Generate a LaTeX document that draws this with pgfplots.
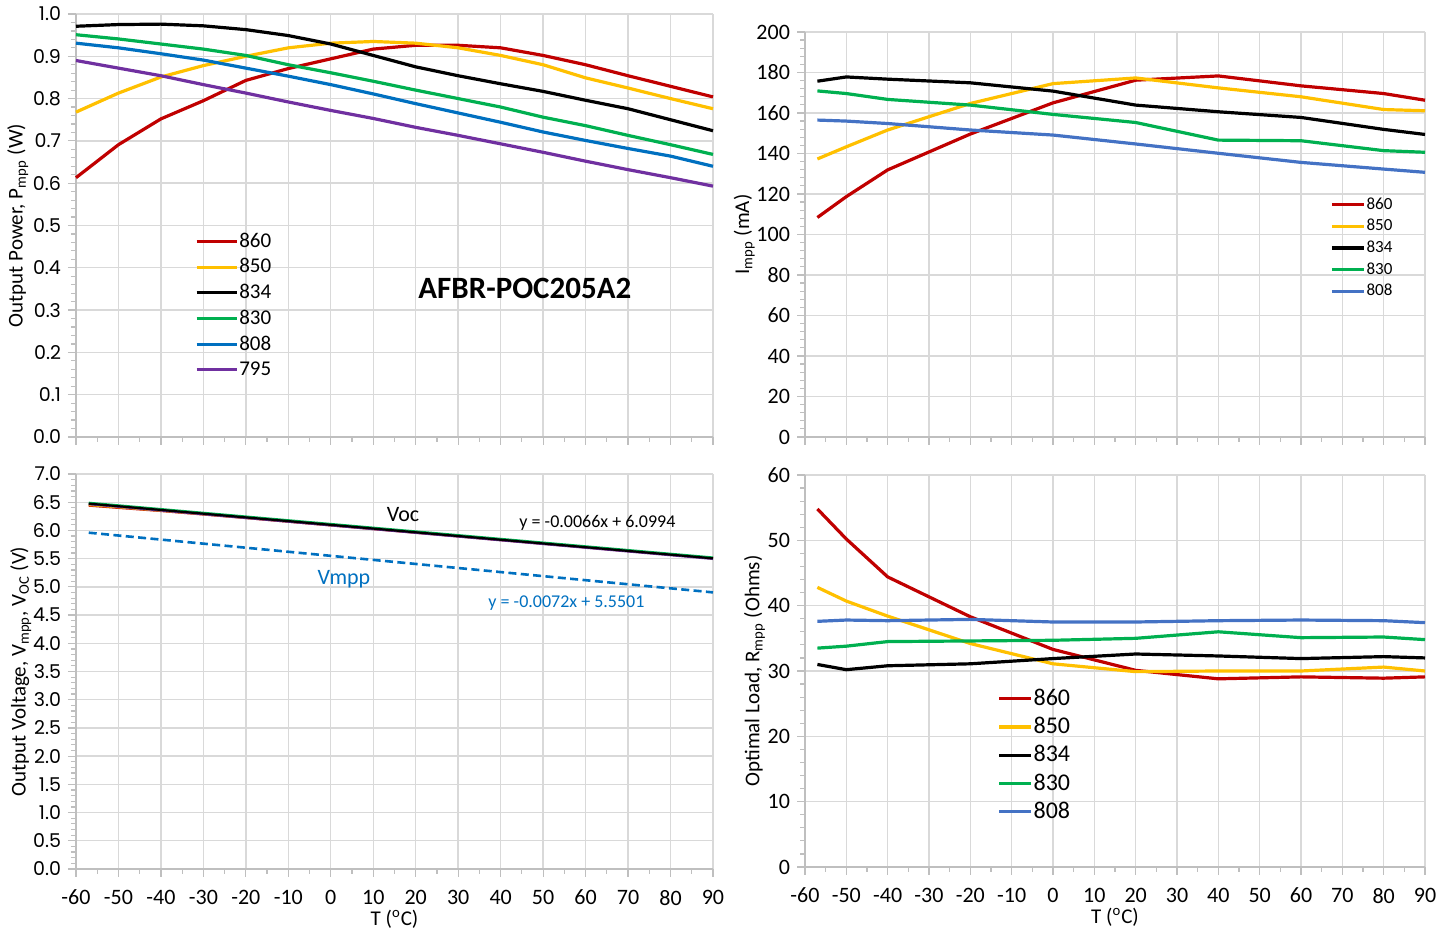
\documentclass[border=0pt]{standalone}
\usepackage{pgfplots}
\pgfplotsset{compat=1.18}
\usepackage{fontspec}
\setmainfont{Carlito}
\newfontfamily\gothic{Poppins}

\definecolor{cRed}{RGB}{192,0,0}
\definecolor{cYel}{RGB}{255,192,0}
\definecolor{cGrn}{RGB}{0,176,80}
\definecolor{cBlu}{RGB}{0,112,192}
\definecolor{cBlu2}{RGB}{68,114,196}
\definecolor{cPur}{RGB}{112,48,160}
\definecolor{gridgray}{RGB}{217,217,217}
\definecolor{axgray}{RGB}{191,191,191}

\pgfplotsset{
  panel/.style={
    scale only axis, anchor=south west,
    axis lines=left, axis line style={-, draw=axgray, line width=0.8pt},
    xmin=-60, xmax=90, xtick={-60,-50,...,90},
    minor x tick num=1, minor y tick num=4,
    grid=major, major grid style={draw=gridgray, line width=0.7pt},
    tick align=outside, tick style={draw=axgray, line width=0.6pt},
    major tick length=4pt, minor tick length=2.5pt,
    enlargelimits=false, clip=false,
    /pgf/number format/assume math mode=true,
    tick label style={font=\fontsize{11}{13}\selectfont, text=black},
    label style={font=\fontsize{10.5}{12}\selectfont},
    legend cell align=left,
    every axis plot/.append style={line width=1.6pt},
  },
  nolabx/.style={xticklabels={}},
  labx/.style={xticklabel style={yshift=-3pt},
    xlabel={T (\textsuperscript{o}C)},
    xlabel style={yshift=4.5pt}},
}

\begin{document}
\begin{tikzpicture}
\useasboundingbox (0,0) rectangle (728pt,465pt);

% top left: output power
\begin{axis}[panel, nolabx,
  at={(38pt,246.5pt)}, width=318.5pt, height=211.5pt,
  ymin=0, ymax=1, ytick={0,0.1,...,1.0},
  yticklabel style={font=\gothic\fontsize{9.5}{11}\selectfont,
    /pgf/number format/.cd, fixed, fixed zerofill, precision=1},
  ylabel={Output Power, P\textsubscript{mpp} (W)}, ylabel shift=-4.5pt,
  legend style={at={(rel axis cs:0.177,0.498)}, anchor=north west, draw=none, fill=none,
    font=\fontsize{10.5}{12}\selectfont, row sep=2.2pt, nodes={inner xsep=0.5pt, inner ysep=1pt}},
  legend image code/.code={\draw[#1] (0pt,0pt) -- (20pt,0pt);},
]
\addplot[cRed] coordinates {(-60,0.613) (-50,0.691) (-40,0.752) (-30,0.795) (-20,0.843) (-10,0.871) (0,0.894) (10,0.917) (20,0.926) (30,0.926) (40,0.920) (50,0.902) (60,0.880) (70,0.854) (80,0.829) (90,0.804)};
\addlegendentry{860}
\addplot[cYel] coordinates {(-60,0.768) (-50,0.813) (-40,0.851) (-30,0.878) (-20,0.900) (-10,0.920) (0,0.931) (10,0.935) (20,0.931) (30,0.920) (40,0.902) (50,0.880) (60,0.849) (70,0.825) (80,0.800) (90,0.776)};
\addlegendentry{850}
\addplot[black] coordinates {(-60,0.971) (-50,0.975) (-40,0.976) (-30,0.972) (-20,0.963) (-10,0.949) (0,0.929) (10,0.902) (20,0.875) (30,0.854) (40,0.835) (50,0.817) (60,0.796) (70,0.776) (80,0.750) (90,0.724)};
\addlegendentry{834}
\addplot[cGrn] coordinates {(-60,0.951) (-50,0.941) (-40,0.929) (-30,0.917) (-20,0.902) (-10,0.880) (0,0.861) (10,0.841) (20,0.820) (30,0.800) (40,0.780) (50,0.756) (60,0.736) (70,0.713) (80,0.691) (90,0.668)};
\addlegendentry{830}
\addplot[cBlu] coordinates {(-60,0.931) (-50,0.920) (-40,0.906) (-30,0.891) (-20,0.872) (-10,0.853) (0,0.833) (10,0.811) (20,0.788) (30,0.766) (40,0.744) (50,0.721) (60,0.701) (70,0.682) (80,0.664) (90,0.640)};
\addlegendentry{808}
\addplot[cPur] coordinates {(-60,0.890) (-50,0.872) (-40,0.854) (-30,0.833) (-20,0.813) (-10,0.792) (0,0.772) (10,0.753) (20,0.732) (30,0.713) (40,0.693) (50,0.673) (60,0.652) (70,0.632) (80,0.613) (90,0.593)};
\addlegendentry{795}
\node[font=\bfseries\fontsize{15.5}{17}\selectfont] at (axis cs:45.7,0.35) {AFBR-POC205A2};
\end{axis}

% top right: current
\begin{axis}[panel, nolabx,
  at={(402.5pt,246.5pt)}, width=310pt, height=202.5pt,
  ymin=0, ymax=200, ytick={0,20,...,200},
  ylabel={I\textsubscript{mpp} (mA)}, ylabel shift=-6pt,
  legend style={at={(rel axis cs:0.837,0.607)}, anchor=north west, draw=none, fill=none,
    font=\fontsize{8.5}{10}\selectfont, row sep=1.5pt, nodes={inner xsep=0.5pt, inner ysep=1pt}},
  legend image code/.code={\draw[#1] (0pt,0pt) -- (16pt,0pt);},
]
\addplot[cRed] coordinates {(-57,108.4) (-50,118.7) (-40,131.9) (-20,149.6) (0,165.0) (20,176.2) (40,178.3) (60,173.4) (80,169.6) (90,166.3)};
\addlegendentry{860}
\addplot[cYel] coordinates {(-57,137.3) (-50,143.3) (-40,151.6) (-20,164.7) (0,174.5) (20,177.3) (40,172.4) (60,168.0) (80,161.7) (90,161.1)};
\addlegendentry{850}
\addplot[black] coordinates {(-57,175.7) (-50,177.8) (-40,176.7) (-20,174.9) (0,170.8) (20,163.9) (40,160.6) (60,157.8) (80,151.9) (90,149.4)};
\addlegendentry{834}
\addplot[cGrn] coordinates {(-57,170.9) (-50,169.6) (-40,166.7) (-20,163.9) (0,159.3) (20,155.3) (40,146.6) (60,146.3) (80,141.4) (90,140.6)};
\addlegendentry{830}
\addplot[cBlu2] coordinates {(-57,156.5) (-50,156.0) (-40,154.8) (-20,151.6) (0,149.1) (20,144.7) (40,140.1) (60,135.6) (80,132.3) (90,130.7)};
\addlegendentry{808}
\end{axis}

% bottom left: voltage
\begin{axis}[panel, labx,
  at={(38pt,30.5pt)}, width=318.5pt, height=197.5pt,
  ymin=0, ymax=7, ytick={0,0.5,...,7.0},
  yticklabel style={font=\gothic\fontsize{9.5}{11}\selectfont,
    /pgf/number format/.cd, fixed, fixed zerofill, precision=1},
  ylabel={Output Voltage, V\textsubscript{mpp}, V\textsubscript{OC} (V)}, ylabel shift=-6pt,
  every axis plot/.append style={line width=1.1pt},
]
\addplot[cRed] coordinates {(-57,6.440) (-50,6.400) (-40,6.345) (-20,6.220) (0,6.090) (20,5.960) (40,5.830) (60,5.700) (80,5.570) (90,5.505)};
\addplot[cYel] coordinates {(-57,6.450) (-50,6.410) (-40,6.350) (-20,6.225) (0,6.094) (20,5.963) (40,5.832) (60,5.701) (80,5.570) (90,5.505)};
\addplot[cGrn] coordinates {(-57,6.490) (-50,6.444) (-40,6.378) (-20,6.246) (0,6.114) (20,5.982) (40,5.850) (60,5.718) (80,5.586) (90,5.520)};
\addplot[cPur] coordinates {(-57,6.465) (-50,6.419) (-40,6.353) (-20,6.221) (0,6.089) (20,5.957) (40,5.825) (60,5.693) (80,5.561) (90,5.495)};
\addplot[black] coordinates {(-57,6.475) (-50,6.429) (-40,6.363) (-20,6.231) (0,6.099) (20,5.967) (40,5.835) (60,5.703) (80,5.571) (90,5.505)};
\addplot[cBlu, line width=1.3pt, dash pattern=on 4pt off 2.2pt] coordinates {(-57,5.960) (90,4.902)};
\node[font=\fontsize{11}{13}\selectfont] at (axis cs:17,6.29) {Voc};
\node[font=\fontsize{9}{11}\selectfont] at (axis cs:62.8,6.13) {y = -0.0066x + 6.0994};
\node[font=\fontsize{11}{13}\selectfont, text=cBlu] at (axis cs:3.1,5.14) {Vmpp};
\node[font=\fontsize{9}{11}\selectfont, text=cBlu] at (axis cs:55.5,4.71) {y = -0.0072x + 5.5501};
\end{axis}

% bottom right: optimal load
\begin{axis}[panel, labx,
  at={(402.5pt,31.5pt)}, width=310pt, height=196pt,
  ymin=0, ymax=60, ytick={0,10,...,60},
  ylabel={Optimal Load, R\textsubscript{mpp} (Ohms)}, ylabel shift=-5.5pt,
  legend style={at={(rel axis cs:0.3,0.47)}, anchor=north west, draw=none, fill=none,
    font=\fontsize{12}{14}\selectfont, row sep=2.4pt, nodes={inner xsep=0.5pt, inner ysep=1pt}},
  legend image code/.code={\draw[#1] (0pt,0pt) -- (16pt,0pt);},
]
\addplot[cRed] coordinates {(-57,54.8) (-50,50.2) (-40,44.4) (-20,38.3) (0,33.3) (20,30.1) (40,28.8) (60,29.1) (80,28.9) (90,29.1)};
\addlegendentry{860}
\addplot[cYel] coordinates {(-57,42.8) (-50,40.7) (-40,38.4) (-20,34.2) (0,31.1) (20,29.9) (40,30.0) (60,30.0) (80,30.6) (90,30.0)};
\addlegendentry{850}
\addplot[black] coordinates {(-57,31.0) (-50,30.2) (-40,30.8) (-20,31.1) (0,31.9) (20,32.6) (40,32.3) (60,31.9) (80,32.2) (90,32.0)};
\addlegendentry{834}
\addplot[cGrn] coordinates {(-57,33.5) (-50,33.8) (-40,34.5) (-20,34.6) (0,34.7) (20,35.0) (40,36.0) (60,35.1) (80,35.2) (90,34.8)};
\addlegendentry{830}
\addplot[cBlu2] coordinates {(-57,37.6) (-50,37.8) (-40,37.7) (-20,37.9) (0,37.5) (20,37.5) (40,37.7) (60,37.8) (80,37.7) (90,37.4)};
\addlegendentry{808}
\end{axis}
\end{tikzpicture}
\end{document}
